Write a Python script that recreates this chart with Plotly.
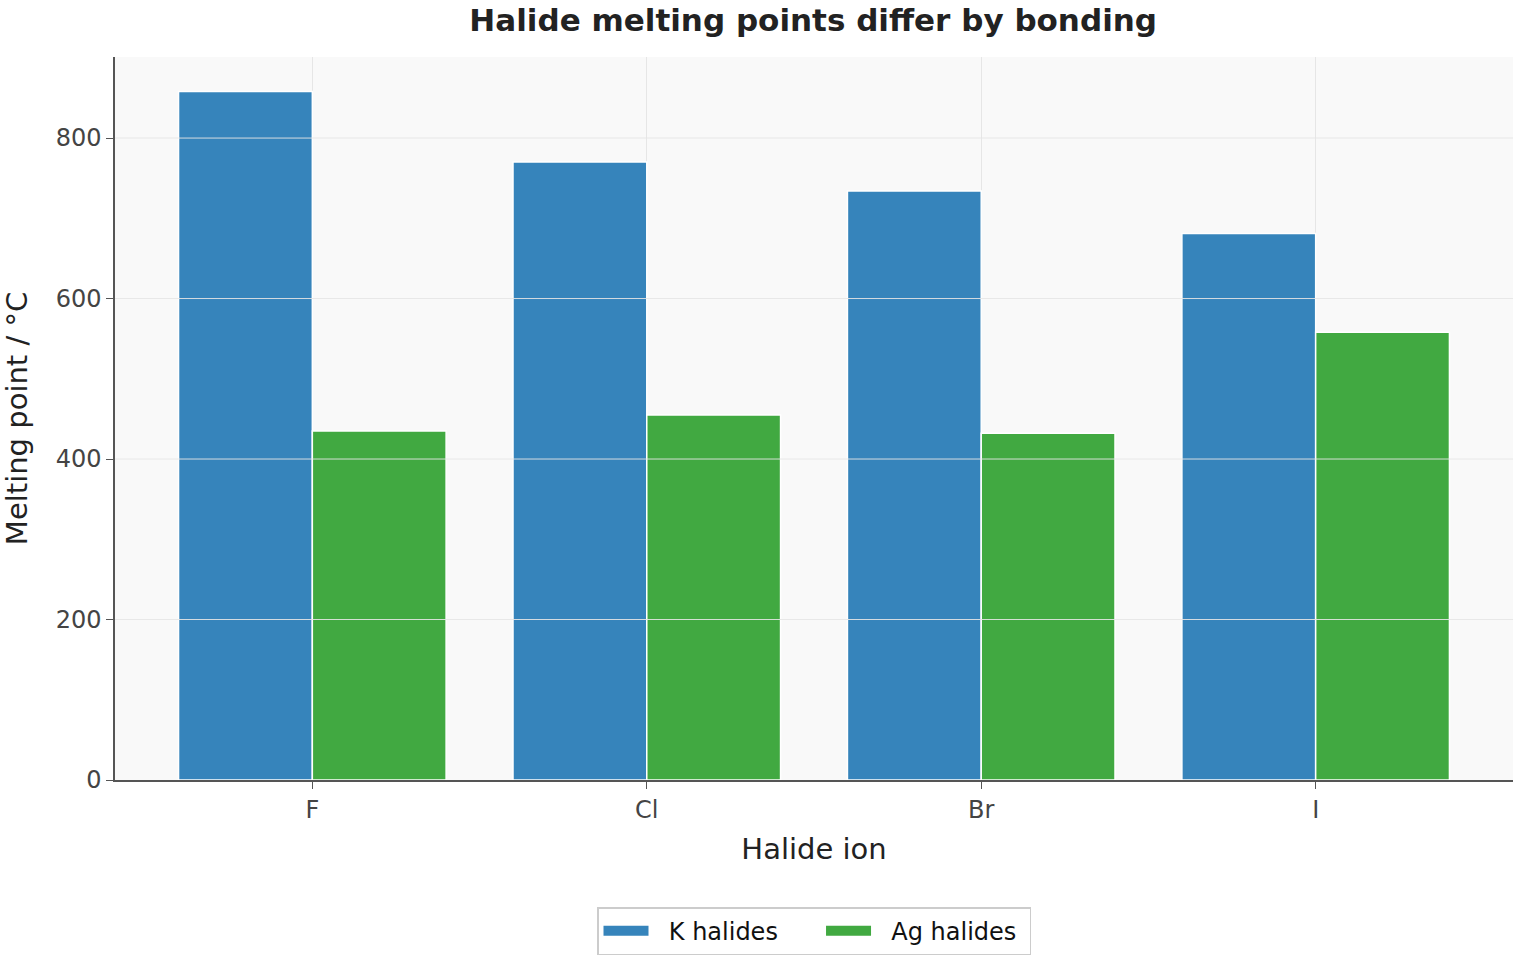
import plotly.graph_objects as go

halides = ["F", "Cl", "Br", "I"]
k_halides = [858, 770, 734, 681]
ag_halides = [435, 455, 432, 558]
y_ticks = [0, 200, 400, 600, 800]
series_names = ["K halides", "Ag halides"]
colors = ["#3684bb", "#41a941"]

fig = go.Figure()
for name, vals, col in zip(series_names, [k_halides, ag_halides], colors):
    fig.add_trace(go.Bar(x=halides, y=vals, name=name, showlegend=False,
                         marker=dict(color=col, line=dict(color="white", width=1.5))))
# legend entries with wide rectangular swatches
pads = ["\u00a0" * 5, "\u00a0"]
for name, col, pad in zip(series_names, colors, pads):
    fig.add_trace(go.Scatter(x=[None], y=[None], mode="lines", name="\u00a0\u00a0" + name + pad,
                             line=dict(color=col, width=16), showlegend=True))

# gridlines drawn above bars, as in the reference
for t in y_ticks[1:]:
    fig.add_shape(type="line", xref="paper", x0=0, x1=1, yref="y", y0=t, y1=t,
                  line=dict(color="rgba(229,229,229,0.9)", width=1), layer="above")

fig.update_layout(
    width=1520, height=960,
    margin=dict(l=115, r=7, t=57, b=180, autoexpand=False),
    paper_bgcolor="white", plot_bgcolor="#f9f9f9",
    font=dict(family="DejaVu Sans", size=24, color="#444"),
    title=dict(text="<b>Halide melting points differ by bonding</b>", x=0.535, xanchor="center",
               y=0.979, yanchor="middle", font=dict(size=31, color="#222")),
    barmode="group", bargap=0.2, bargroupgap=0,
    showlegend=True,
    legend=dict(orientation="h", x=0.5, xanchor="center", y=-0.176, yanchor="top",
                bordercolor="#cccccc", borderwidth=1.5, font=dict(size=24, color="#111"),
                itemwidth=45, traceorder="normal", tracegroupgap=0),
    xaxis=dict(title=dict(text="Halide ion", font=dict(size=29, color="#222"), standoff=16),
               range=[-0.59, 3.59], showline=True, linecolor="#555", linewidth=1.5,
               ticks="outside", ticklen=7, tickcolor="#555", showgrid=True,
               gridcolor="#e6e6e6", zeroline=False, automargin=False),
    yaxis=dict(title=dict(text="Melting point / °C", font=dict(size=29, color="#222"), standoff=20),
               range=[0, 901], tickvals=y_ticks, showline=True, linecolor="#555", linewidth=1.5,
               ticks="outside", ticklen=7, tickcolor="#555", showgrid=False, zeroline=False,
               automargin=False),
)

fig.write_html("out.html")
